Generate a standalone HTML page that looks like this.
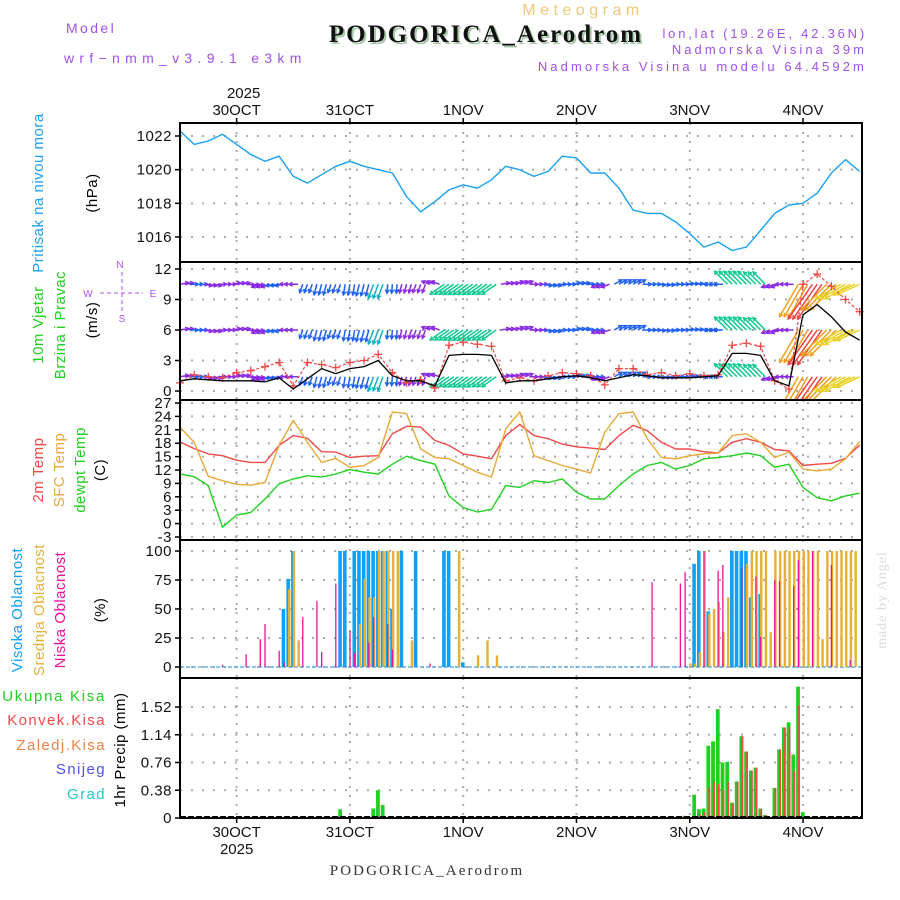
<!DOCTYPE html>
<html><head><meta charset="utf-8"><style>
html,body{margin:0;padding:0;background:#fff;width:900px;height:900px;overflow:hidden}
svg{display:block;font-family:"Liberation Sans",sans-serif}
</style></head><body>
<svg id="c" width="900" height="900" viewBox="0 0 900 900">
<text x="583" y="15" font-size="16" fill="#f0c878" text-anchor="middle" letter-spacing="4.5">Meteogram</text>
<text x="488" y="44" font-size="25" font-weight="bold" font-family="Liberation Serif, serif" fill="#a8c8a8" text-anchor="middle" letter-spacing="2">PODGORICA_Aerodrom</text>
<text x="486" y="42" font-size="25" font-weight="bold" font-family="Liberation Serif, serif" fill="#111" text-anchor="middle" letter-spacing="2">PODGORICA_Aerodrom</text>
<text x="66" y="33" font-size="14" fill="#a050e8" letter-spacing="2.4">Model</text>
<text x="64" y="63" font-size="14" fill="#a050e8" letter-spacing="5.3">wrf−nmm_v3.9.1 e3km</text>
<text x="867" y="38" font-size="13" fill="#a050e8" text-anchor="end" letter-spacing="2.8">lon,lat (19.26E, 42.36N)</text>
<text x="867" y="54" font-size="13" fill="#a050e8" text-anchor="end" letter-spacing="3.05">Nadmorska Visina 39m</text>
<text x="867" y="71" font-size="13" fill="#a050e8" text-anchor="end" letter-spacing="3.1">Nadmorska Visina u modelu 64.4592m</text>
<text x="427" y="875" font-size="15" font-family="Liberation Serif, serif" fill="#333" text-anchor="middle" letter-spacing="2.1">PODGORICA_Aerodrom</text>
<text transform="translate(886,600) rotate(-90)" font-size="14" font-family="Liberation Serif, serif" fill="#d8ddd8" text-anchor="middle" letter-spacing="1">made by Angel</text>
<g font-size="15" letter-spacing="0.5">
<text transform="translate(43,193) rotate(-90)" fill="#20a0f0" text-anchor="middle">Pritisak na nivou mora</text>
<text transform="translate(97,193) rotate(-90)" fill="#000" text-anchor="middle">(hPa)</text>
<text transform="translate(43,325) rotate(-90)" fill="#20d020" text-anchor="middle">10m Vjetar</text>
<text transform="translate(65,325) rotate(-90)" fill="#20d020" text-anchor="middle">Brzina i Pravac</text>
<text transform="translate(97,320) rotate(-90)" fill="#000" text-anchor="middle">(m/s)</text>
<text transform="translate(43,470) rotate(-90)" fill="#f04848" text-anchor="middle">2m Temp</text>
<text transform="translate(64,470) rotate(-90)" fill="#e8a838" text-anchor="middle">SFC Temp</text>
<text transform="translate(85,470) rotate(-90)" fill="#20d020" text-anchor="middle">dewpt Temp</text>
<text transform="translate(105,470) rotate(-90)" fill="#000" text-anchor="middle">(C)</text>
<text transform="translate(22,610) rotate(-90)" fill="#10a0f8" text-anchor="middle">Visoka Oblacnost</text>
<text transform="translate(44,610) rotate(-90)" fill="#e8b038" text-anchor="middle">Srednja Oblacnost</text>
<text transform="translate(65,610) rotate(-90)" fill="#f0109a" text-anchor="middle">Niska Oblacnost</text>
<text transform="translate(105,610) rotate(-90)" fill="#000" text-anchor="middle">(%)</text>
<text x="106" y="701" fill="#20d020" text-anchor="end" letter-spacing="1.7">Ukupna  Kisa</text>
<text x="106" y="725" fill="#f04848" text-anchor="end" letter-spacing="1.4">Konvek.Kisa</text>
<text x="106" y="750" fill="#f08040" text-anchor="end" letter-spacing="1.4">Zaledj.Kisa</text>
<text x="106" y="774" fill="#5050f0" text-anchor="end" letter-spacing="1.4">Snijeg</text>
<text x="106" y="799" fill="#20c8c8" text-anchor="end" letter-spacing="1.4">Grad</text>
<text transform="translate(125,750) rotate(-90)" fill="#000" text-anchor="middle">1hr Precip (mm)</text>
</g>
<g fill="#b050f0" stroke="#b050f0" font-size="10">
<text x="120" y="268" text-anchor="middle" stroke="none">N</text>
<text x="88" y="297" text-anchor="middle" stroke="none">W</text>
<text x="153" y="297" text-anchor="middle" stroke="none">E</text>
<text x="122" y="322" text-anchor="middle" stroke="none">S</text>
<line x1="100" y1="293" x2="143" y2="293" stroke-dasharray="4,3"/>
<line x1="122" y1="272" x2="122" y2="314" stroke-dasharray="4,3"/>
</g>
</svg>
<script>
// ---- data (3-hourly from 29OCT 12UTC) ----
const dayLabels=["30OCT","31OCT","1NOV","2NOV","3NOV","4NOV"];
const pressure=[1022.3,1021.5,1021.7,1022.1,1021.5,1020.9,1020.5,1020.8,1019.6,1019.2,1019.7,1020.2,1020.5,1020.2,1020.0,1019.8,1018.4,1017.5,1018.1,1018.8,1019.1,1018.9,1019.4,1020.2,1020.0,1019.6,1019.9,1020.8,1020.7,1019.8,1019.8,1018.9,1017.6,1017.4,1017.4,1016.9,1016.2,1015.4,1015.7,1015.2,1015.4,1016.4,1017.4,1017.9,1018.0,1018.6,1019.8,1020.6,1019.9];
const pressureTicks=[1016,1018,1020,1022];
const temp2m=[18.3,16.8,15.6,15.2,14.2,13.7,13.7,17.5,19.7,19.1,16.1,16.0,14.8,15.1,15.2,20.1,21.8,21.6,18.6,17.5,15.6,15.1,14.5,19.7,22.2,19.7,19.0,17.8,17.2,16.9,16.6,19.7,22.0,20.8,18.2,16.7,16.7,16.1,15.8,18.2,19.0,18.2,16.6,16.3,13.0,13.3,13.5,14.6,17.6];
const tempSfc=[21.6,18.2,10.6,9.6,8.8,8.6,9.2,17.5,23.1,18.2,13.7,14.6,12.6,13.0,14.8,25.0,24.6,16.7,14.8,14.5,13.0,11.5,10.4,21.2,25.0,15.2,14.1,13.0,12.2,11.3,20.5,24.6,25.0,19.0,14.8,14.5,15.2,15.6,15.8,19.7,20.1,18.2,14.8,16.0,12.2,11.8,12.2,14.5,18.4];
const dewpt=[11.1,10.5,8.5,-0.8,1.9,2.5,5.5,8.9,10.0,10.7,10.4,11.1,12.1,11.5,11.1,13.3,15.1,14.1,13.3,6.2,3.6,2.6,3.2,8.5,8.1,9.6,9.2,10.0,7.0,5.5,5.5,8.5,11.1,13.0,13.7,12.2,13.0,14.5,14.8,15.2,15.8,15.2,12.6,13.3,8.1,5.8,5.1,6.2,6.8];
const tempTicks=[-3,0,3,6,9,12,15,18,21,24,27];
const windSpeed=[1.0,1.2,1.1,1.0,1.0,1.0,0.9,1.3,0.2,1.2,2.2,1.7,2.2,2.4,3.0,1.5,1.0,1.0,0.5,3.5,3.6,3.6,3.5,0.8,1.0,1.0,1.2,1.4,1.5,1.3,1.0,1.3,1.6,1.5,1.3,1.3,1.3,1.4,1.5,3.7,3.7,3.5,1.0,0.5,7.5,8.5,7.3,5.8,5.0];
const windGust=[0.8,1.6,1.4,1.3,1.8,2.0,2.4,2.8,0.5,2.8,2.6,2.3,2.8,3.0,3.6,1.8,0.8,1.1,0.3,4.5,4.8,4.6,4.4,1.0,1.3,1.0,1.5,1.8,1.7,1.5,0.6,2.2,2.2,1.6,1.8,1.5,1.7,1.5,1.6,4.5,4.7,4.4,1.0,0.2,10.5,11.5,10.3,9.0,7.8];
const windDir=[10,0,-10,0,10,-5,200,190,180,250,255,250,260,255,250,265,255,250,160,215,215,215,215,10,20,0,-10,0,10,0,200,30,30,0,-5,0,5,0,180,135,135,135,200,180,240,235,225,210,205];
const windRows=[1.4,6,10.5];
const windTicks=[0,3,6,9,12];
// clouds (hourly index, percent)
const highHours=[22,23,24,34,35,37,38,39,40,41,42,43,44,45,47,50,56,57,60,109,110,112,117,118,119,120,121,123];
const highVals=[50,76,100,100,100,100,100,100,100,100,100,100,100,50,100,100,100,100,4,89,100,48,100,100,100,100,60,63];
const midHours=[23,24,25,38,39,40,41,42,43,44,45,46,49,59,63,65,67,108,109,110,111,112,113,114,115,116,120,121,122,123,124,125,126,127,128,129,130,131,132,133,134,135,136,137,138,139,140,141,142,143];
const midVals=[67,100,23,37,76,60,60,100,100,100,100,100,23,100,10,23,10,3,3,13,100,46,50,56,30,60,89,100,100,100,100,30,100,100,100,100,100,100,100,100,100,100,24,100,100,100,100,100,100,100];
const lowHours=[9,14,17,18,21,22,26,29,30,33,36,37,40,41,44,45,53,100,106,107,111,114,115,119,122,123,126,127,130,131,134,138,142];
const lowVals=[2,11,24,37,14,4,43,57,13,72,31,12,21,43,37,15,3,73,72,82,100,83,88,86,78,26,75,74,70,92,100,88,6];
const cloudTicks=[0,25,50,75,100];
// precip (hourly index, mm)
const precipHours=[34,41,42,43,107,109,110,111,112,113,114,115,116,117,118,119,120,121,122,123,124,126,127,128,129,130,131,132];
const precipTotal=[0.12,0.13,0.38,0.18,0.03,0.32,0.12,0.13,0.99,1.05,1.49,0.76,0.77,0.21,0.50,1.12,0.91,0.65,0.69,0.13,0.04,0.41,0.94,1.24,1.31,0.87,1.80,0.08];
const precipConv=[0,0,0,0,0,0,0.05,0.08,0.42,0.50,0.46,0.38,0.49,0.19,0.50,1.12,0.91,0.65,0.69,0.13,0.04,0.41,0.94,1.24,1.24,0.64,1.54,0];
const precipTicks=[0,0.38,0.76,1.14,1.52];

const NS='http://www.w3.org/2000/svg';
const svg=document.getElementById('c');
function mk(tag,attrs,parent){const e=document.createElementNS(NS,tag);for(const k in attrs)e.setAttribute(k,attrs[k]);(parent||svg).appendChild(e);return e;}
const X0=180,X1=862,PXH=4.72;
function xh(h){return X0+h*PXH;}
function x3(i){return xh(i*3);}
const panels=[
 {name:'pressure',top:123,bot:262,v0:1016,y0:237,v1:1022,y1:136},
 {name:'wind',top:262,bot:400,v0:0,y0:391,v1:12,y1:269},
 {name:'temp',top:400,bot:540,v0:-3,y0:537,v1:27,y1:403},
 {name:'cloud',top:540,bot:678,v0:0,y0:667,v1:100,y1:551},
 {name:'precip',top:678,bot:818,v0:0,y0:818,v1:1.52,y1:707}];
function yf(p){return v=>p.y0+(v-p.v0)*(p.y1-p.y0)/(p.v1-p.v0);}
const yP=yf(panels[0]),yW=yf(panels[1]),yT=yf(panels[2]),yC=yf(panels[3]),yR=yf(panels[4]);
const tickSets=[pressureTicks,windTicks,tempTicks,cloudTicks,precipTicks];
const yfs=[yP,yW,yT,yC,yR];
panels.forEach((p,pi)=>{
 const g=mk('g',{});
 
 
 tickSets[pi].forEach(t=>{
  const y=yfs[pi](t);
  if(y>p.top+2&&y<p.bot-2){const l=mk('line',{x1:X0,x2:X1,y1:y,y2:y,stroke:'#aaa','stroke-width':2,'stroke-dasharray':'2,9'},g);}
  const tl=mk('text',{x:172,y:y+5,'font-size':15,'text-anchor':'end',fill:'#111','letter-spacing':'0.5'},g);
  tl.textContent=(pi==4&&t==0)?'0':String(t);
  
  
  mk('line',{x1:X0-5,x2:X0,y1:y,y2:y,stroke:'#000','stroke-width':1.5},g);
 });
 for(let d=0;d<6;d++){const x=xh(12+24*d);const l=mk('line',{x1:x,x2:x,y1:p.top,y2:p.bot,stroke:'#aaa','stroke-width':2,'stroke-dasharray':'2,7'},g);}
});
dayLabels.forEach((d,i)=>{
 const x=xh(12+24*i);
 const t=mk('text',{x:x,y:115,'font-size':15,'text-anchor':'middle',fill:'#111'});t.textContent=d;
 
 const b=mk('text',{x:x,y:837,'font-size':15,'text-anchor':'middle',fill:'#111'});b.textContent=d;
 
 mk('line',{x1:x,x2:x,y1:118,y2:123,stroke:'#000','stroke-width':1.5});
 mk('line',{x1:x,x2:x,y1:818,y2:823,stroke:'#000','stroke-width':1.5});
});
{const t=mk('text',{x:xh(12)+7,y:98,'font-size':15,'text-anchor':'middle',fill:'#111'});t.textContent='2025';
const b=mk('text',{x:xh(12),y:854,'font-size':15,'text-anchor':'middle',fill:'#111'});b.textContent='2025';}
function polyline(arr,yfun,color,name,w,dash){
 const pts=arr.map((v,i)=>x3(i).toFixed(1)+','+yfun(v).toFixed(1)).join(' ');
 const e=mk('polyline',{points:pts,fill:'none',stroke:color,'stroke-width':w||1.4,'stroke-linejoin':'round'});
 if(dash)e.setAttribute('stroke-dasharray',dash);
 
 
 return e;
}
const defs=mk('defs',{});const cp=mk('clipPath',{id:'wclip'},defs);mk('rect',{x:X0,y:262,width:X1-X0,height:138},cp);
polyline(pressure,yP,'#1aa0f0','pressure-line',1.4);
polyline(temp2m,yT,'#f04848','temp-2m-line',1.4);
polyline(tempSfc,yT,'#e8a838','temp-sfc-line',1.4);
polyline(dewpt,yT,'#20d020','dewpoint-line',1.4);
function wcol(v){if(v<1.2)return '#8a2be2';if(v<2.6)return '#2060f0';if(v<3.3)return '#10b0c0';if(v<4.5)return '#10c890';if(v<6.5)return '#e8d020';if(v<8)return '#f0a020';return '#f04040';}
const wg=mk('g',{'clip-path':'url(#wclip)'});


for(let h=0;h<=144;h++){
 const i=Math.min(48,Math.round(h/3));
 const v=windSpeed[i],a=windDir[i]*Math.PI/180,len=Math.max(9,5*v);
 const c=wcol(v);
 windRows.forEach(r=>{
  const x=xh(h),y=yW(r);const dx=Math.cos(a)*len,dy=-Math.sin(a)*len;
  const x2=x+dx,y2=y+dy;
  const ln=mk('line',{x1:x,y1:y,x2:x2,y2:y2,stroke:c,'stroke-width':1.5},wg);
  
  
  const ha=0.5,hl=4;
  mk('polyline',{points:`${x2-hl*Math.cos(a-ha)},${y2+hl*Math.sin(a-ha)} ${x2},${y2} ${x2-hl*Math.cos(a+ha)},${y2+hl*Math.sin(a+ha)}`,fill:'none',stroke:c,'stroke-width':1.3},wg);
 });
}
const gl=polyline(windGust,yW,'#f04848','wind-gust-line',1.2,'3,2');gl.setAttribute('clip-path','url(#wclip)');
windGust.forEach((v,i)=>{const x=x3(i),y=yW(v);if(y<263)return;const p=mk('path',{d:`M${x-4},${y}h8M${x},${y-4}v8`,stroke:'#f04848','stroke-width':1.3});});
const sl=polyline(windSpeed,yW,'#000','wind-speed-line',1.3);sl.setAttribute('clip-path','url(#wclip)');
mk('line',{x1:X0,x2:X1,y1:yC(0),y2:yC(0),stroke:'#60b0f0','stroke-width':1.5,'stroke-dasharray':'4,2'});
highHours.forEach((h,k)=>{const y=yC(highVals[k]);const r=mk('rect',{x:xh(h)-2.2,y:y,width:3.6,height:yC(0)-y,fill:'#10a0f8'});});
midHours.forEach((h,k)=>{const y=yC(midVals[k]);const r=mk('rect',{x:xh(h)-0.5,y:y,width:2.4,height:yC(0)-y,fill:'#e8b030'});});
lowHours.forEach((h,k)=>{const y=yC(lowVals[k]);const r=mk('rect',{x:xh(h)-0.6,y:y,width:1.3,height:yC(0)-y,fill:'#f0109a'});});
precipHours.forEach((h,k)=>{const y=yR(precipTotal[k]);const r=mk('rect',{x:xh(h)-2.2,y:y,width:3.8,height:yR(0)-y,fill:'#20d020'});
 if(precipConv[k]>0){const y2=yR(precipConv[k]);const c=mk('rect',{x:xh(h)-0.2,y:y2,width:1.8,height:yR(0)-y2,fill:'#f04848'});}});
mk('line',{x1:X0,x2:X1,y1:817,y2:817,stroke:'#000','stroke-width':2,'stroke-dasharray':'6,2'});
panels.forEach(p=>{const r=mk('rect',{x:X0,y:p.top,width:X1-X0,height:p.bot-p.top,fill:'none',stroke:'#000','stroke-width':2});});
</script>
</body></html>
